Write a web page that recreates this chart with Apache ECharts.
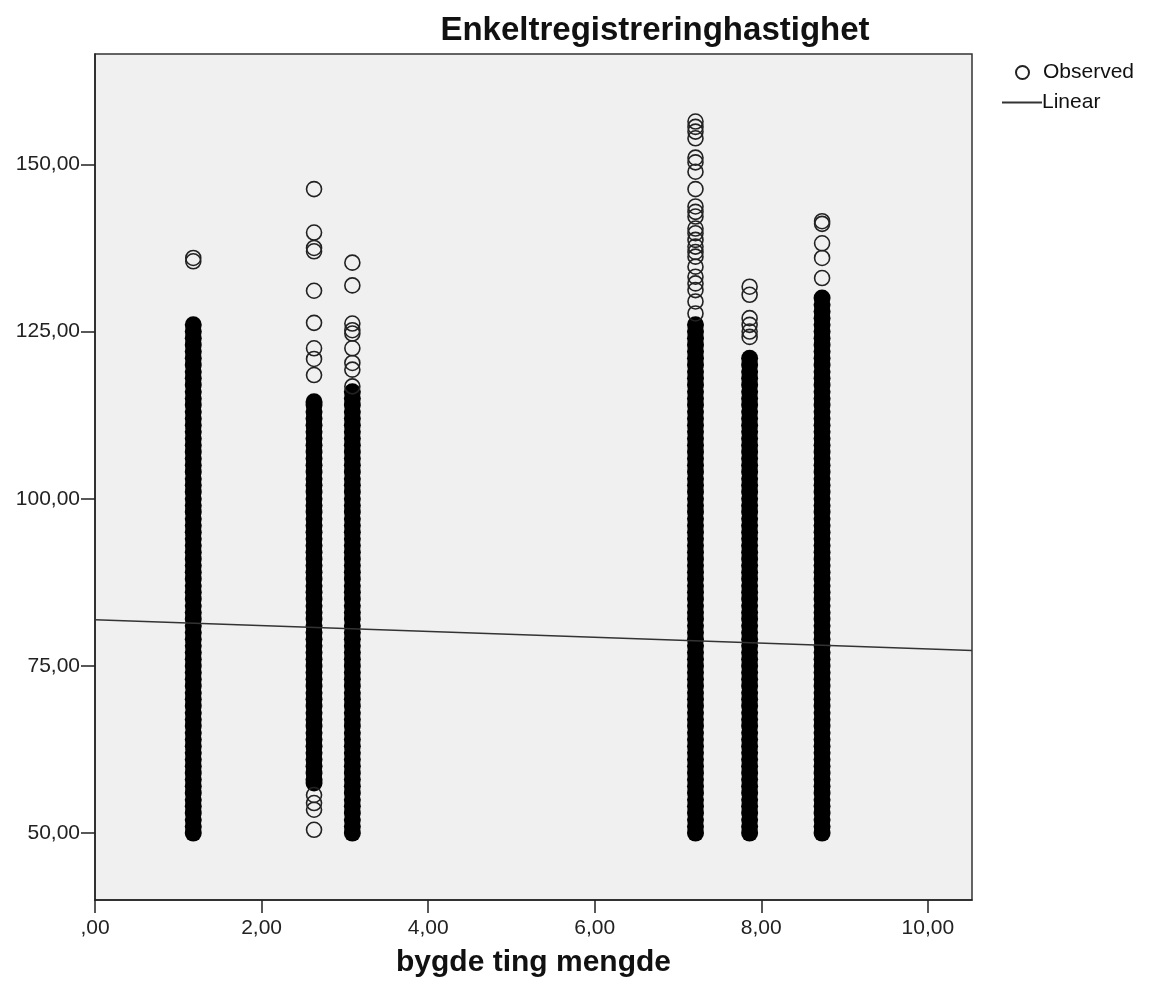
<!DOCTYPE html>
<html><head><meta charset="utf-8">
<script src="https://cdn.jsdelivr.net/npm/echarts@6/dist/echarts.min.js"></script>
<style>html,body{margin:0;padding:0;background:#fff}#c{width:1152px;height:997px}</style>
</head><body><div id="c"></div>
<script>
// x position (bygde ting mengde) of each group
var groupX = [1.18, 2.63, 3.09, 7.21, 7.86, 8.73];

// densely packed observations (solid black band) per group
var dense1 = [50,51,52,53,54,55,56,57,58,59,60,61,62,63,64,65,66,67,68,69,70,71,72,73,74,75,76,77,78,79,80,81,82,83,84,85,86,87,88,89,90,91,92,93,94,95,96,97,98,99,100,101,102,103,104,105,106,107,108,109,110,111,112,113,114,115,116,117,118,119,120,121,122,123,124,125,126];
var dense2 = [57.5,58,59,60,61,62,63,64,65,66,67,68,69,70,71,72,73,74,75,76,77,78,79,80,81,82,83,84,85,86,87,88,89,90,91,92,93,94,95,96,97,98,99,100,101,102,103,104,105,106,107,108,109,110,111,112,113,114,114.5];
var dense3 = [50,51,52,53,54,55,56,57,58,59,60,61,62,63,64,65,66,67,68,69,70,71,72,73,74,75,76,77,78,79,80,81,82,83,84,85,86,87,88,89,90,91,92,93,94,95,96,97,98,99,100,101,102,103,104,105,106,107,108,109,110,111,112,113,114,115,116];
var dense4 = [50,51,52,53,54,55,56,57,58,59,60,61,62,63,64,65,66,67,68,69,70,71,72,73,74,75,76,77,78,79,80,81,82,83,84,85,86,87,88,89,90,91,92,93,94,95,96,97,98,99,100,101,102,103,104,105,106,107,108,109,110,111,112,113,114,115,116,117,118,119,120,121,122,123,124,125,126];
var dense5 = [50,51,52,53,54,55,56,57,58,59,60,61,62,63,64,65,66,67,68,69,70,71,72,73,74,75,76,77,78,79,80,81,82,83,84,85,86,87,88,89,90,91,92,93,94,95,96,97,98,99,100,101,102,103,104,105,106,107,108,109,110,111,112,113,114,115,116,117,118,119,120,121];
var dense6 = [50,51,52,53,54,55,56,57,58,59,60,61,62,63,64,65,66,67,68,69,70,71,72,73,74,75,76,77,78,79,80,81,82,83,84,85,86,87,88,89,90,91,92,93,94,95,96,97,98,99,100,101,102,103,104,105,106,107,108,109,110,111,112,113,114,115,116,117,118,119,120,121,122,123,124,125,126,127,128,129,130];

// individually visible observations per group
var sparse1 = [136.0, 135.5];
var sparse2 = [146.3, 139.8, 137.5, 137.0, 131.1, 126.3, 122.5, 120.9, 118.5, 55.7, 54.5, 53.5, 50.5];
var sparse3 = [135.3, 131.9, 126.2, 125.2, 124.7, 122.5, 120.3, 119.3, 116.8];
var sparse4 = [156.4, 155.6, 154.9, 153.9, 151.0, 150.3, 148.9, 146.3, 143.7, 142.9, 142.2, 140.4, 139.7, 138.7, 137.7, 136.9, 136.2, 134.7, 133.2, 132.2, 131.2, 129.5, 127.7];
var sparse5 = [131.7, 130.5, 127.0, 126.0, 125.0, 124.2];
var sparse6 = [141.5, 141.1, 138.2, 136.0, 133.0];

// linear fit endpoints
var fitX = [0, 10.53];
var fitY = [81.9, 77.3];

var xTicks = [0, 2, 4, 6, 8, 10];
var yTicks = [50, 75, 100, 125, 150];

var denseAll = [dense1, dense2, dense3, dense4, dense5, dense6];
var sparseAll = [sparse1, sparse2, sparse3, sparse4, sparse5, sparse6];
function pts(groups) {
  var out = [];
  groups.forEach(function (g, i) { g.forEach(function (v) { out.push([groupX[i], v]); }); });
  return out;
}
function fmt(v) { return v === 0 ? ',00' : v.toFixed(2).replace('.', ','); }

var FONT = '"Liberation Sans", Arial, sans-serif';
var chart = echarts.init(document.getElementById('c'), null, {renderer: 'canvas'});
chart.setOption({
  animation: false,
  backgroundColor: '#ffffff',
  title: {
    text: 'Enkeltregistreringhastighet', left: 650, top: 9, textAlign: 'center',
    textStyle: {fontFamily: FONT, fontSize: 33, fontWeight: 'bold', color: '#111'}
  },
  legend: [
    {data: [{name: 'Observed', icon: 'circle'}], orient: 'vertical', left: 1010, top: 57,
     itemWidth: 13, itemHeight: 13, itemGap: 4,
     textStyle: {fontFamily: FONT, fontSize: 21, color: '#111', padding: [0,0,0,9]}},
    {data: [{name: 'Linear', icon: 'rect'}], left: 997, top: 87, itemWidth: 40, itemHeight: 2, itemGap: 0,
     textStyle: {fontFamily: FONT, fontSize: 21, color: '#111', padding: [0,0,0,-5]}}
  ],
  grid: {left: 95, right: 180, top: 54, bottom: 97, show: true,
         backgroundColor: '#f0f0f0', borderColor: '#333', borderWidth: 1.5},
  xAxis: {
    type: 'value', min: 0, max: 10.53,
    name: 'bygde ting mengde', nameLocation: 'middle', nameGap: 48,
    nameTextStyle: {fontFamily: FONT, fontSize: 30, fontWeight: 'bold', color: '#111'},
    axisLine: {show: true, onZero: false, lineStyle: {color: '#222', width: 1.5}},
    axisTick: {show: true, length: 13, customValues: xTicks, lineStyle: {color: '#222', width: 1.5}},
    axisLabel: {customValues: xTicks, formatter: fmt, margin: 18,
                fontFamily: FONT, fontSize: 21, color: '#222'},
    splitLine: {show: false}
  },
  yAxis: {
    type: 'value', min: 40, max: 166.5,
    axisLine: {show: true, onZero: false, lineStyle: {color: '#222', width: 1.5}},
    axisTick: {show: true, length: 14, customValues: yTicks, lineStyle: {color: '#222', width: 1.5}},
    axisLabel: {customValues: yTicks, formatter: fmt, margin: 15,
                fontFamily: FONT, fontSize: 21, color: '#222'},
    splitLine: {show: false}
  },
  series: [
    {name: 'ObservedDense', type: 'scatter', data: pts(denseAll), symbol: 'circle', symbolSize: 17,
     itemStyle: {color: '#000', opacity: 1}, silent: true, z: 2},
    {name: 'Observed', type: 'scatter', data: pts(sparseAll), symbol: 'circle', symbolSize: 15,
     itemStyle: {color: 'rgba(0,0,0,0)', borderColor: '#222', borderWidth: 1.6, opacity: 1}, z: 3},
    {name: 'Linear', type: 'line', data: [[fitX[0], fitY[0]], [fitX[1], fitY[1]]],
     showSymbol: false, lineStyle: {color: '#333', width: 1.5}, itemStyle: {color: '#333'}, z: 4}
  ]
});
</script></body></html>
